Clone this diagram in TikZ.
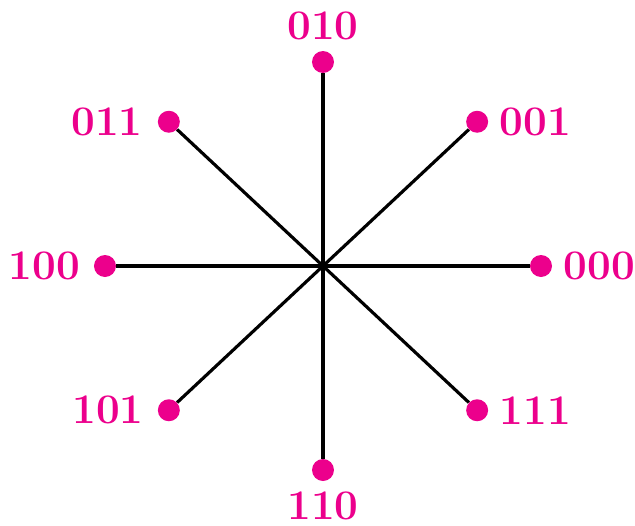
\documentclass[tikz,border=0pt]{standalone}
\definecolor{PointColor}{RGB}{236,0,140}
\usepackage{tikz}
\usetikzlibrary{positioning, calc}

\begin{document}
\begin{tikzpicture}[
    ray/.style={line width=1.8pt, black},
    symbol/.style={circle, fill=PointColor, inner sep=0pt, minimum size=0.44cm},
    bits/.style={PointColor, font=\fontsize{24}{28}\selectfont\bfseries, inner sep=0pt}
  ]
          \useasboundingbox (-6.46,-5.18) rectangle (6.24,5.32);
          \coordinate (o) at (0,0);
          \foreach \n/\ang in {0/0, 1/45, 2/90, 3/135, 4/180, 5/225, 6/270, 7/315} {
            \node[symbol] (p\n) at ({4.36*cos(\ang)},{4.08*sin(\ang)}) {};
            \draw[ray] (o) -- (p\n);
          }
          \node[bits, right=0.22cm of p0] (l0) {000};
          \node[bits, right=0.22cm of p1] (l1) {001};
          \node[bits, above=0.21cm of p2] (l2) {010};
          \node[bits, left=0.29cm of p3] (l3) {011};
          \node[bits, left=0.27cm of p4] (l4) {100};
          \node[bits, left=0.27cm of p5] (l5) {101};
          \node[bits, below=0.2cm of p6] (l6) {110};
          \node[bits, right=0.22cm of p7] (l7) {111};
        \end{tikzpicture}
\end{document}
